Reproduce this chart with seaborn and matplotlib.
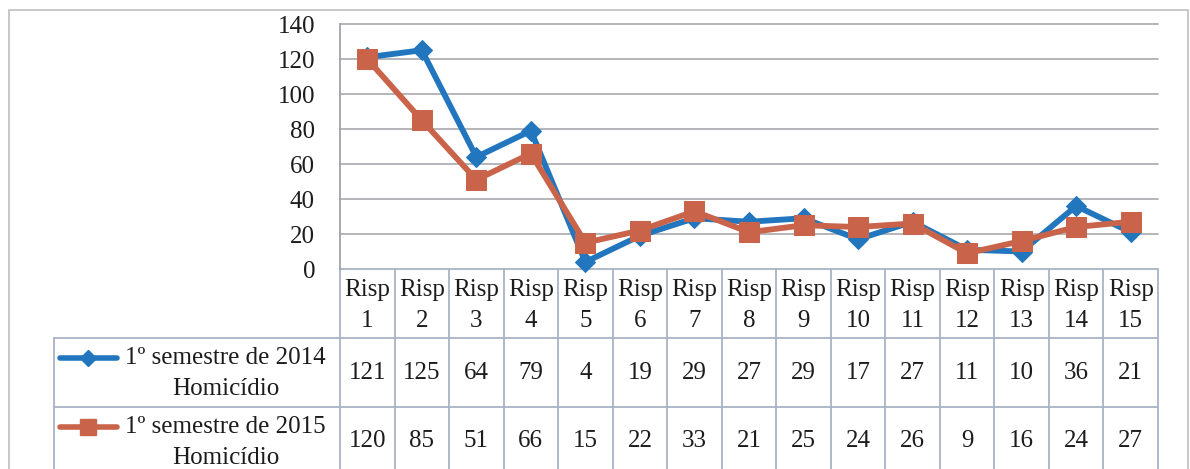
import numpy as np
import pandas as pd
import matplotlib
matplotlib.use("Agg")
import matplotlib.pyplot as plt
import matplotlib.transforms as mtransforms
from matplotlib.lines import Line2D
import seaborn as sns

# Homicides per RISP, first semester
regions = [f"Risp {i}" for i in range(1, 16)]
region_numbers = [str(i) for i in range(1, 16)]
homicides_2014 = [121, 125, 64, 79, 4, 19, 29, 27, 29, 17, 27, 11, 10, 36, 21]
homicides_2015 = [120, 85, 51, 66, 15, 22, 33, 21, 25, 24, 26, 9, 16, 24, 27]
series_labels = ["1º semestre de 2014\nHomicídio", "1º semestre de 2015\nHomicídio"]
y_ticks = [0, 20, 40, 60, 80, 100, 120, 140]

sns.set_theme(style="white")
plt.rcParams["font.family"] = ["Liberation Serif", "DejaVu Serif"]

BLUE = "#2276BD"
ORANGE = "#C9644A"
GRID = "#AEB0B4"
TABLE = "#A9B3C6"
TEXT = "#1C1C1C"
FS = 18

W, H = 1190, 469
fig = plt.figure(figsize=(W / 100, H / 100), dpi=100)
fig.patch.set_facecolor("white")

# pixel-coordinate overlay for the frame and the data table
ax_t = fig.add_axes([0, 0, 1, 1], zorder=0)
ax_t.set_xlim(0, W)
ax_t.set_ylim(H, 0)
ax_t.axis("off")

# plot area (pixels): x 340..1158, y 24..269
px0, px1, py0, py1 = 340, 1158, 24, 269
ax = fig.add_axes([px0 / W, 1 - py1 / H, (px1 - px0) / W, (py1 - py0) / H], zorder=2)
ax.set_facecolor("none")

df = pd.DataFrame({"regiao": regions, "y2014": homicides_2014, "y2015": homicides_2015})
sns.lineplot(data=df, x="regiao", y="y2014", ax=ax, color=BLUE, linewidth=4.2,
             marker="D", markersize=10.5, markeredgecolor=BLUE, sort=False)
sns.lineplot(data=df, x="regiao", y="y2015", ax=ax, color=ORANGE, linewidth=4.2,
             marker="s", markersize=14, markeredgecolor=ORANGE, sort=False)

ax.set_xlim(-0.5, len(regions) - 0.5)
ax.set_ylim(0, 140)
ax.set_yticks(y_ticks)
ax.set_yticklabels([str(v) for v in y_ticks], fontsize=FS, color=TEXT)
ax.set_xticks([])
ax.set_xlabel("")
ax.set_ylabel("")
ax.tick_params(axis="y", length=0, pad=18)
for v in y_ticks[1:]:
    ax.axhline(v, color=GRID, linewidth=1.3, zorder=0)
for s in ["top", "right", "bottom"]:
    ax.spines[s].set_visible(False)
ax.spines["left"].set_color("#9EA3AB")
ax.spines["left"].set_linewidth(1.3)
for line in ax.lines:
    line.set_clip_on(False)

# outer chart frame
ax_t.plot([9, 9, 1188, 1188], [H + 5, 10, 10, H + 5], color="#C4C4C4", linewidth=1.3)

# data table below the plot
tr = mtransforms.blended_transform_factory(ax.transData, ax_t.transData)
n = len(regions)
row_y = [269, 338, 407, 476]
legend_left = 54

for y in row_y:
    ax_t.plot([-0.5, n - 0.5], [y, y], transform=tr, color=TABLE, linewidth=1.3, clip_on=False)
for y in row_y[1:]:
    ax_t.plot([legend_left, px0], [y, y], color=TABLE, linewidth=1.3)
ax_t.plot([legend_left, legend_left], [row_y[1], H + 5], color=TABLE, linewidth=1.3)
for i in range(n + 1):
    ax_t.plot([i - 0.5, i - 0.5], [row_y[0], H + 5], transform=tr, color=TABLE,
              linewidth=1.3, clip_on=False)

for i in range(n):
    ax_t.text(i, 290, "Risp", transform=tr, ha="center", va="center", fontsize=FS, color=TEXT)
    ax_t.text(i, 321, region_numbers[i], transform=tr, ha="center", va="center", fontsize=FS, color=TEXT)
    ax_t.text(i, 373, str(homicides_2014[i]), transform=tr, ha="center", va="center", fontsize=FS, color=TEXT)
    ax_t.text(i, 441, str(homicides_2015[i]), transform=tr, ha="center", va="center", fontsize=FS, color=TEXT)

# legend keys inside the table
keys = [(BLUE, "D", 8.5, 358), (ORANGE, "s", 11.5, 427)]
for (col, mk, ms, yk), label in zip(keys, series_labels):
    ax_t.add_line(Line2D([60, 117], [yk, yk], color=col, linewidth=4.0))
    ax_t.add_line(Line2D([88], [yk], color=col, marker=mk, markersize=ms, markeredgecolor=col))
    first, second = label.split("\n")
    ax_t.text(225, yk, first, ha="center", va="center", fontsize=FS, color=TEXT)
    ax_t.text(226, yk + 31, second, ha="center", va="center", fontsize=FS, color=TEXT)

fig.savefig("out.png", dpi=100)
